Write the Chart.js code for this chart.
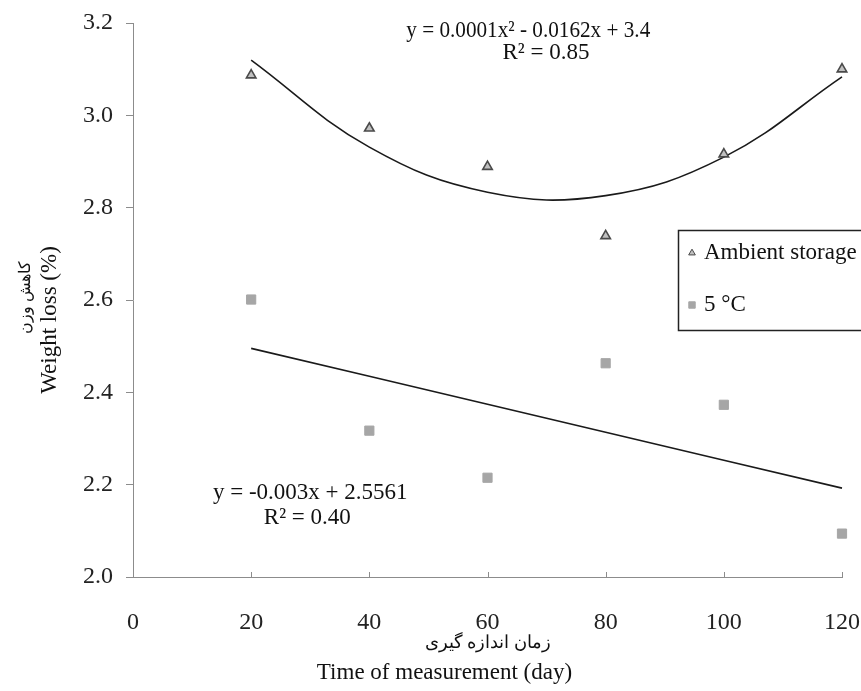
<!DOCTYPE html>
<html>
<head>
<meta charset="utf-8">
<script src="https://cdn.jsdelivr.net/npm/chart.js@4.4.0/dist/chart.umd.min.js"></script>
<style>
  html, body { margin: 0; padding: 0; background: #fff; }
  #chartDiv { width: 861px; height: 691px; }
</style>
</head>
<body>
<div id="chartDiv"><canvas id="lossChart" width="861" height="691"></canvas></div>
<script>
// time of measurement (day)
var days = [20, 40, 60, 80, 100, 120];
// weight loss (%)
var ambientLoss = [3.087, 2.972, 2.889, 2.739, 2.916, 3.100];
var coldLoss    = [2.601, 2.317, 2.215, 2.463, 2.373, 2.094];

var xTicks = [0, 20, 40, 60, 80, 100, 120];
var yTicks = [2.0, 2.2, 2.4, 2.6, 2.8, 3.0, 3.2];

var seriesNames = ['Ambient storage', '5 °C'];
var ambientEq = ['y = 0.0001x² - 0.0162x + 3.4', 'R² = 0.85'];
var coldEq    = ['y = -0.003x + 2.5561', 'R² = 0.40'];
var xTitle = ['زمان اندازه گیری', 'Time of measurement (day)'];
var yTitle = ['کاهش وزن', 'Weight loss (%)'];

var FONT = "'Liberation Serif', 'Times New Roman', serif";

// least squares polynomial, same as the excel trendline
function polyFit(xs, ys, degree) {
    var n = degree + 1;
    var A = [], b = [];
    for (var i = 0; i < n; i++) {
        A.push([]);
        for (var j = 0; j < n; j++) {
            var s = 0;
            xs.forEach(function (x) { s += Math.pow(x, i + j); });
            A[i].push(s);
        }
        var t = 0;
        xs.forEach(function (x, k) { t += ys[k] * Math.pow(x, i); });
        b.push(t);
    }
    for (var c = 0; c < n; c++) {
        for (var r = c + 1; r < n; r++) {
            var f = A[r][c] / A[c][c];
            for (var k = c; k < n; k++) A[r][k] -= f * A[c][k];
            b[r] -= f * b[c];
        }
    }
    var coef = [];
    for (var r2 = n - 1; r2 >= 0; r2--) {
        var s2 = b[r2];
        for (var k2 = r2 + 1; k2 < n; k2++) s2 -= A[r2][k2] * coef[k2];
        coef[r2] = s2 / A[r2][r2];
    }
    return coef;
}

function trendPoints(ys, degree) {
    var coef = polyFit(days, ys, degree);
    return days.map(function (x) {
        var y = 0;
        coef.forEach(function (c, p) { y += c * Math.pow(x, p); });
        return { x: x, y: y };
    });
}

function toXY(ys) {
    return days.map(function (x, i) { return { x: x, y: ys[i] }; });
}

var ambientStyle = { pointStyle: 'triangle', radius: 5.5, borderWidth: 1.6, borderColor: '#4a4a4a', backgroundColor: '#c0c0c0' };
var coldStyle    = { pointStyle: 'rect', radius: 6.5, borderWidth: 1, borderColor: '#a6a6a6', backgroundColor: '#a6a6a6' };

// equations, axis titles, legend box and inner x ticks
var overlayPlugin = {
    id: 'overlay',
    afterDraw: function (chart) {
        var ctx = chart.ctx;
        var xs = chart.scales.x, ys = chart.scales.y;
        var area = chart.chartArea;

        ctx.save();
        // small ticks pointing up on the x axis
        ctx.strokeStyle = '#8c8c8c';
        ctx.lineWidth = 1;
        xTicks.forEach(function (v) {
            var px = Math.round(xs.getPixelForValue(v)) + 0.5;
            ctx.beginPath();
            ctx.moveTo(px, area.bottom);
            ctx.lineTo(px, area.bottom - 5);
            ctx.stroke();
        });

        // trendline equations
        ctx.fillStyle = '#111';
        ctx.textAlign = 'center';
        ctx.textBaseline = 'middle';
        ctx.font = '23px ' + FONT;
        ctx.fillText(ambientEq[0], xs.getPixelForValue(66.9), ys.getPixelForValue(3.182), 244);
        ctx.fillText(ambientEq[1], xs.getPixelForValue(69.9), ys.getPixelForValue(3.136));
        ctx.fillText(coldEq[0], xs.getPixelForValue(30.0), ys.getPixelForValue(2.182));
        ctx.fillText(coldEq[1], xs.getPixelForValue(29.5), ys.getPixelForValue(2.127));

        // axis titles (persian line above / left of the english one)
        var midX = (area.left + area.right) / 2;
        ctx.font = '18px ' + FONT;
        ctx.fillText(xTitle[0], midX, 643);
        ctx.font = '23px ' + FONT;
        ctx.fillText(xTitle[1], midX - 43, 673);

        ctx.save();
        ctx.translate(26, 297);
        ctx.rotate(-Math.PI / 2);
        ctx.font = '16px ' + FONT;
        ctx.fillText(yTitle[0], 0, 0);
        ctx.restore();
        ctx.save();
        ctx.translate(50, 320);
        ctx.rotate(-Math.PI / 2);
        ctx.font = '23px ' + FONT;
        ctx.fillText(yTitle[1], 0, 0);
        ctx.restore();

        // legend box (runs off the right edge like the original)
        var lx = 678, ly = 230;
        ctx.fillStyle = '#fff';
        ctx.fillRect(lx, ly, 200, 100);
        ctx.strokeStyle = '#222';
        ctx.lineWidth = 1.5;
        ctx.strokeRect(lx + 0.5, ly + 0.5, 200, 100);

        var items = [ambientStyle, coldStyle];
        ctx.textAlign = 'left';
        ctx.font = '23px ' + FONT;
        items.forEach(function (st, i) {
            var cy = ly + 23 + i * 52;
            ctx.fillStyle = st.backgroundColor;
            ctx.strokeStyle = st.borderColor;
            ctx.lineWidth = 1;
            Chart.helpers.drawPoint(ctx, { pointStyle: st.pointStyle, radius: st.radius * 0.7, borderWidth: 1, rotation: 0 }, lx + 14, cy);
            ctx.fillStyle = '#111';
            ctx.fillText(seriesNames[i], lx + 26, cy);
        });
        ctx.restore();
    }
};

var ctx = document.getElementById('lossChart').getContext('2d');
var lossChart = new Chart(ctx, {
    type: 'scatter',
    data: {
        datasets: [
            {
                label: seriesNames[0],
                data: toXY(ambientLoss),
                pointStyle: ambientStyle.pointStyle,
                pointRadius: ambientStyle.radius,
                pointBorderWidth: ambientStyle.borderWidth,
                borderColor: ambientStyle.borderColor,
                backgroundColor: ambientStyle.backgroundColor,
                showLine: false,
                clip: false,
                order: 1
            },
            {
                label: seriesNames[1],
                data: toXY(coldLoss),
                pointStyle: coldStyle.pointStyle,
                pointRadius: coldStyle.radius,
                pointBorderWidth: coldStyle.borderWidth,
                borderColor: coldStyle.borderColor,
                backgroundColor: coldStyle.backgroundColor,
                showLine: false,
                clip: false,
                order: 1
            },
            {
                label: 'Poly. (Ambient storage)',
                type: 'line',
                data: trendPoints(ambientLoss, 2),
                borderColor: '#1a1a1a',
                borderWidth: 1.6,
                pointRadius: 0,
                tension: 0.4,
                fill: false,
                clip: false,
                order: 2
            },
            {
                label: 'Linear (5 °C)',
                type: 'line',
                data: trendPoints(coldLoss, 1),
                borderColor: '#1a1a1a',
                borderWidth: 1.6,
                pointRadius: 0,
                tension: 0,
                fill: false,
                clip: false,
                order: 2
            }
        ]
    },
    options: {
        responsive: false,
        animation: false,
        layout: { padding: { top: 23, right: 19, left: 0, bottom: 0 } },
        plugins: {
            legend: { display: false },
            tooltip: { enabled: false }
        },
        scales: {
            x: {
                type: 'linear',
                min: 0,
                max: 120,
                afterBuildTicks: function (scale) {
                    scale.ticks = xTicks.map(function (v) { return { value: v }; });
                },
                afterFit: function (scale) {
                    scale.height = 114;
                    scale.paddingLeft = 0;
                    scale.paddingRight = 0;
                },
                border: { display: true, color: '#8c8c8c', width: 1 },
                grid: { display: true, drawOnChartArea: false, drawTicks: false, color: '#8c8c8c' },
                ticks: {
                    padding: 31,
                    color: '#222',
                    font: { family: FONT, size: 24 }
                }
            },
            y: {
                type: 'linear',
                min: 2.0,
                max: 3.2,
                afterBuildTicks: function (scale) {
                    scale.ticks = yTicks.map(function (v) { return { value: v }; });
                },
                afterFit: function (scale) {
                    scale.width = 133;
                    scale.paddingTop = 0;
                    scale.paddingBottom = 0;
                },
                border: { display: true, color: '#8c8c8c', width: 1 },
                grid: { display: true, drawOnChartArea: false, drawTicks: true, tickLength: 7, color: '#8c8c8c' },
                ticks: {
                    padding: 13,
                    color: '#222',
                    font: { family: FONT, size: 24 },
                    callback: function (v) { return Number(v).toFixed(1); }
                }
            }
        }
    },
    plugins: [overlayPlugin]
});
</script>
</body>
</html>
